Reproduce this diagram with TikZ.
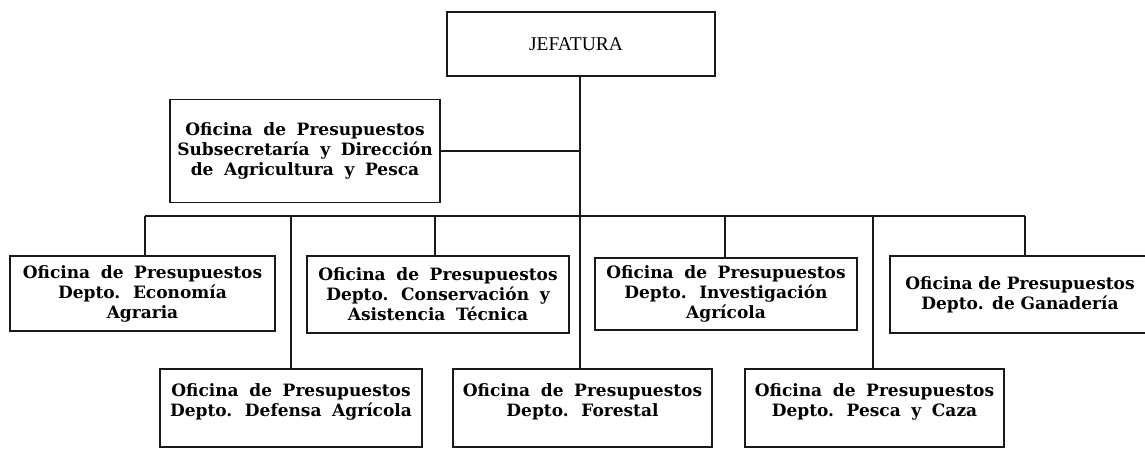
\documentclass[tikz,border=0pt]{standalone}
\usepackage{fontspec}
\setmainfont{DejaVu Serif}[WordSpace=1.8]
\newfontfamily\jefont{Liberation Serif}
\begin{document}
\begin{tikzpicture}[x=1pt,y=-1pt,
  ob/.style={draw=black!90, line width=1.2pt, inner sep=0pt, align=center,
    font=\bfseries\fontsize{17}{20}\selectfont},
  conn/.style={draw=black!90, line width=1.2pt}]
\useasboundingbox (0,0) rectangle (1145,448);
\clip (0,0) rectangle (1145,448);
\fill[white] (0,0) rectangle (1145,448);

% boxes
\node[draw=black!90, line width=1.2pt, minimum width=268pt, minimum height=64pt, inner sep=0pt] (jef) at (581,44) {\hspace*{-10pt}\jefont\fontsize{19.5}{22}\selectfont JEFATURA};
\node[ob, minimum width=270pt, minimum height=103pt] (sub) at (305,151)
  {Oficina de Presupuestos\\Subsecretaría y Dirección\\de Agricultura y Pesca};
\node[ob, minimum width=265pt, minimum height=75pt] (eco) at (142.5,293.5)
  {Oficina de Presupuestos\\Depto. Economía\\Agraria};
\node[ob, minimum width=262pt, minimum height=77pt] (con) at (438,294.5)
  {Oficina de Presupuestos\\Depto. Conservación y\\Asistencia Técnica};
\node[ob, minimum width=262pt, minimum height=72pt] (inv) at (726,294)
  {Oficina de Presupuestos\\Depto. Investigación\\Agrícola};
\node[ob, minimum width=270pt, minimum height=77pt, text width=262pt] (gan) at (1025,294.5)
  {\hspace*{-10pt}Oficina de Presupuestos\\\hspace*{-10pt}Depto. de Ganadería};
\node[ob, minimum width=262pt, minimum height=78pt] (def) at (291,408)
  {Oficina de Presupuestos\\Depto. Defensa Agrícola\\[-4pt]\mbox{}};
\node[ob, minimum width=259pt, minimum height=78pt] (for) at (582.5,408)
  {Oficina de Presupuestos\\Depto. Forestal\\[-4pt]\mbox{}};
\node[ob, minimum width=259pt, minimum height=78pt] (pes) at (874.5,408)
  {Oficina de Presupuestos\\Depto. Pesca y Caza\\[-4pt]\mbox{}};

% bus coordinates
\coordinate (b1) at (145,216);
\coordinate (b2) at (291,216);
\coordinate (b3) at (435,216);
\coordinate (b4) at (580,216);
\coordinate (b5) at (725,216);
\coordinate (b6) at (873,216);
\coordinate (b7) at (1025,216);

% connectors
\draw[conn] (jef.south -| b4) -- (b4);
\draw[conn] (sub.east) -- (sub.east -| b4);
\draw[conn] (b1) -- (b7);
\draw[conn] (b1) -- (b1 |- eco.north);
\draw[conn] (b2) -- (b2 |- def.north);
\draw[conn] (b3) -- (b3 |- con.north);
\draw[conn] (b4) -- (b4 |- for.north);
\draw[conn] (b5) -- (b5 |- inv.north);
\draw[conn] (b6) -- (b6 |- pes.north);
\draw[conn] (b7) -- (gan.north);
\end{tikzpicture}
\end{document}
